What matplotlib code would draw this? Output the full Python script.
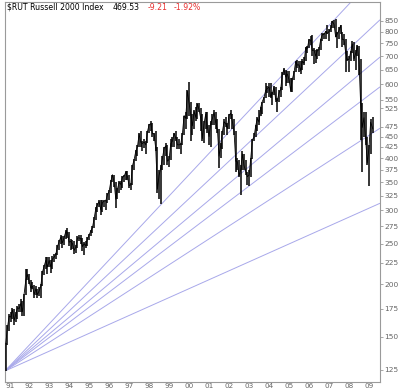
import numpy as np
import matplotlib
matplotlib.use("Agg")
import matplotlib.pyplot as plt

# ---- data (monthly) ----
years = list(range(1991, 2010))

closes = [
    145, 158, 168, 167, 174, 164, 170, 176, 175, 180, 172, 190,   # 1991
    205, 211, 203, 196, 198, 189, 195, 189, 193, 198, 214, 221,   # 1992
    228, 220, 228, 220, 230, 232, 236, 246, 253, 259, 251, 259,   # 1993
    267, 266, 252, 253, 250, 241, 245, 258, 258, 257, 246, 250,   # 1994
    247, 257, 262, 268, 273, 287, 303, 310, 315, 301, 313, 316,   # 1995
    316, 327, 333, 351, 365, 350, 319, 337, 350, 346, 360, 362,   # 1996
    370, 361, 344, 345, 383, 396, 415, 425, 456, 436, 433, 437,   # 1997
    430, 462, 480, 483, 457, 457, 420, 337, 364, 379, 399, 422,   # 1998
    427, 393, 397, 433, 439, 458, 446, 430, 430, 431, 457, 505,   # 1999
    497, 577, 540, 507, 477, 517, 500, 538, 521, 497, 445, 484,   # 2000
    509, 475, 450, 485, 497, 513, 486, 468, 404, 428, 462, 488,   # 2001
    483, 470, 506, 511, 488, 463, 393, 392, 363, 375, 409, 383,   # 2002
    373, 361, 364, 398, 441, 449, 477, 497, 487, 528, 546, 557,   # 2003
    580, 585, 591, 560, 569, 591, 551, 548, 572, 583, 633, 651,   # 2004
    624, 634, 615, 579, 617, 639, 679, 666, 667, 646, 680, 673,   # 2005
    733, 730, 765, 764, 721, 724, 700, 721, 725, 766, 787, 788,   # 2006
    801, 793, 800, 814, 848, 833, 777, 792, 805, 828, 767, 766,   # 2007
    713, 686, 687, 714, 748, 689, 710, 740, 680, 538, 473, 499,   # 2008
    443, 389, 423, 487, 469.53,                                   # 2009
]

lows = [
    125, 143, 155, 163, 165, 160, 163, 165, 172, 172, 168, 168,
    189, 205, 200, 192, 195, 186, 189, 186, 188, 186, 198, 210,
    218, 212, 220, 213, 218, 226, 230, 235, 242, 250, 244, 248,
    256, 258, 247, 242, 243, 236, 238, 244, 254, 250, 240, 235,
    244, 247, 255, 260, 265, 272, 285, 298, 305, 293, 298, 305,
    300, 313, 318, 330, 350, 342, 304, 320, 330, 336, 340, 350,
    355, 355, 340, 335, 345, 375, 393, 405, 425, 425, 415, 422,
    410, 435, 460, 465, 450, 440, 415, 330, 320, 310, 375, 385,
    405, 385, 380, 395, 425, 425, 440, 420, 420, 410, 430, 455,
    470, 495, 505, 440, 455, 470, 490, 495, 515, 465, 440, 435,
    470, 460, 430, 425, 480, 480, 470, 460, 378, 400, 420, 455,
    475, 455, 470, 495, 470, 455, 370, 375, 360, 327, 375, 375,
    365, 345, 343, 360, 398, 438, 450, 465, 480, 505, 510, 540,
    555, 570, 560, 555, 535, 565, 545, 515, 545, 560, 580, 630,
    595, 605, 605, 575, 575, 615, 640, 655, 640, 635, 650, 665,
    680, 710, 730, 745, 700, 670, 675, 690, 700, 725, 760, 770,
    770, 790, 760, 800, 815, 815, 775, 730, 770, 790, 735, 745,
    641, 680, 640, 680, 710, 680, 650, 700, 630, 442, 371, 450,
    430, 385, 343, 410, 460,
]

highs = [
    145, 160, 170, 172, 176, 175, 172, 178, 180, 184, 182, 190,
    218, 218, 212, 205, 202, 199, 198, 195, 197, 200, 215, 222,
    232, 232, 232, 228, 233, 236, 238, 248, 255, 262, 260, 260,
    270, 272, 266, 256, 255, 254, 248, 260, 262, 262, 258, 252,
    253, 259, 264, 270, 276, 290, 305, 312, 318, 317, 317, 318,
    318, 330, 335, 355, 365, 365, 350, 340, 352, 352, 362, 365,
    372, 373, 365, 348, 385, 398, 417, 430, 460, 465, 440, 445,
    440, 465, 482, 491, 485, 460, 465, 425, 375, 385, 405, 425,
    435, 430, 405, 445, 450, 460, 465, 450, 445, 435, 460, 505,
    515, 580, 606, 545, 510, 520, 530, 540, 540, 525, 510, 490,
    515, 515, 480, 490, 510, 520, 515, 495, 470, 435, 465, 495,
    500, 485, 508, 520, 510, 495, 465, 400, 395, 385, 415, 410,
    395, 370, 375, 400, 445, 460, 480, 500, 520, 530, 545, 560,
    603, 595, 605, 605, 575, 595, 590, 555, 580, 590, 640, 655,
    650, 645, 645, 620, 620, 645, 680, 685, 680, 680, 690, 695,
    735, 740, 770, 780, 785, 730, 725, 728, 735, 770, 795, 795,
    805, 830, 810, 830, 850, 855, 856, 800, 820, 830, 800, 790,
    770, 720, 700, 720, 760, 755, 725, 745, 740, 690, 540, 515,
    515, 450, 430, 495, 500,
]

# fan lines: start value at the chart origin, value reached at the right edge
fan_start = 124.3
fan_ends = [1116, 854, 696, 591, 471, 312]

ytick_vals = [125, 150, 175, 200, 225, 250, 275, 300, 325, 350, 375, 400,
              425, 450, 475, 525, 550, 600, 650, 700, 750, 800, 850]
xtick_labels = ["91", "92", "93", "94", "95", "96", "97", "98", "99", "00",
                "01", "02", "03", "04", "05", "06", "07", "08", "09"]

title_parts = ["$RUT Russell 2000 Index", "469.53", "-9.21", "-1.92%"]
title_colors = ["black", "black", "#e83030", "#e83030"]

# ---- layout ----
W, H = 400, 391
fig = plt.figure(figsize=(W / 100, H / 100), dpi=100)
fig.patch.set_facecolor("white")
ax = fig.add_axes([5 / W, 9 / H, 375 / W, 380 / H])

n = len(closes)
t = np.array([1991 + (i + 0.5) / 12 for i in range(n)])
t[0] = 1991.04
t[-1] = 2009.40

x0, x1 = 1991.0, 2009.76
y0, y1 = 117.0, 941.6

# fan lines
for v in fan_ends:
    ax.plot([x0, x1], [fan_start, v], color="#a8a8ea", lw=0.7, zorder=1,
            solid_capstyle="butt")

# price bars
ax.vlines(t, lows, highs, color="black", lw=1.1, zorder=3)
ax.plot(t, closes, color="black", lw=0.6, zorder=3)
ax.plot([x0, t[0]], [125, lows[0]], color="black", lw=0.6, zorder=3)

ax.set_yscale("log")
ax.set_xlim(x0, x1)
ax.set_ylim(y0, y1)

ax.yaxis.tick_right()
ax.set_yticks(ytick_vals)
ax.set_yticklabels([str(v) for v in ytick_vals])
ax.yaxis.set_minor_locator(matplotlib.ticker.NullLocator())
ax.tick_params(axis="y", which="major", length=2, width=0.6, color="#999999",
               labelsize=5.4, labelcolor="#666666", pad=1.2)

ax.set_xticks(years)
ax.set_xticklabels(xtick_labels, ha="left")
ax.tick_params(axis="x", length=0, labelsize=5.2, labelcolor="#666666", pad=0.6)

for s in ax.spines.values():
    s.set_color("#9a9a9a")
    s.set_linewidth(0.8)

# title pieces placed one after another
fig.canvas.draw()
renderer = fig.canvas.get_renderer()
xpix = 7.0
gaps = [9, 8, 6]
for i, (txt, col) in enumerate(zip(title_parts, title_colors)):
    s = txt.replace("$", r"\$")
    tobj = fig.text(xpix / W, 1 - 7 / H, s, fontsize=5.6, color=col,
                    va="center", ha="left")
    bb = tobj.get_window_extent(renderer=renderer)
    if i < len(gaps):
        xpix = bb.x1 + gaps[i]

fig.savefig("out.png", dpi=100, facecolor="white")
